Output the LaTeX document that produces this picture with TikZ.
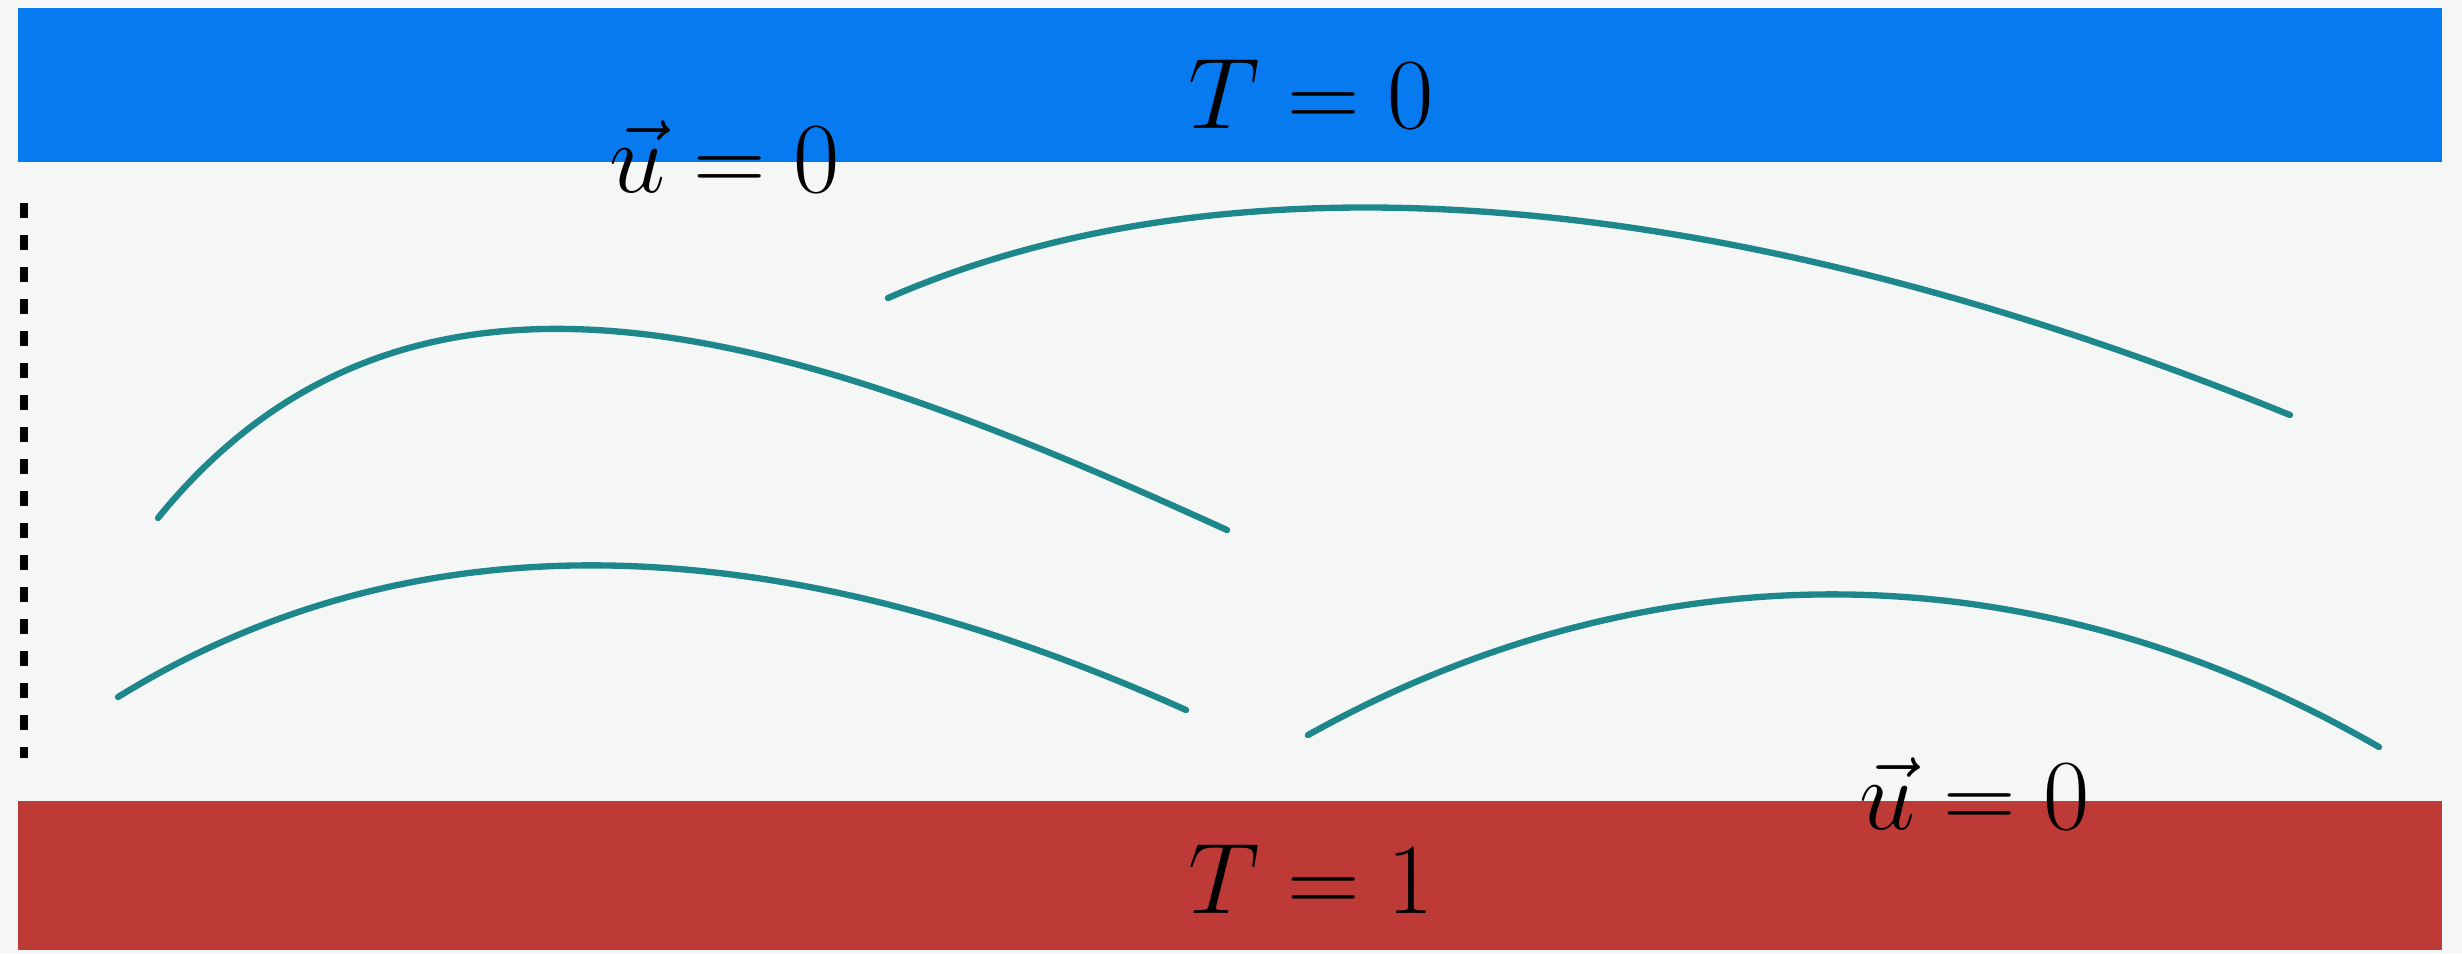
\documentclass[tikz,border=0pt]{standalone}
\usepackage{amsmath}
\usetikzlibrary{positioning}
\definecolor{coldblue}{RGB}{8,122,240}
\definecolor{hotred}{RGB}{190,58,54}
\definecolor{fluidbg}{RGB}{245,247,246}
\definecolor{plume}{RGB}{30,135,140}

\begin{document}
\begin{tikzpicture}[
    x=0.01cm, y=-0.01cm,
    wall/.style={rectangle, inner sep=0pt, outer sep=0pt, minimum width=24.22cm},
    lbl/.style={font=\Huge, inner sep=0pt, scale=1.15},
    streak/.style={plume, line width=1.8pt, line cap=round},
    sidewall/.style={black, line width=2pt, dash pattern=on 0.15cm off 0.17cm}
]

% ============ FLUID LAYER ============
\fill[fluidbg] (0,0) rectangle (2462,953);

% ============ PLATES ============
\node[wall, fill=coldblue, minimum height=1.54cm] (cold) at (1230,85) {};
\node[wall, fill=hotred, minimum height=1.49cm] (hot) at (1230,875.5) {};

\node[lbl] (coldT) at (1311,94) {$T=0$};
\node[lbl] (hotT) at (1311,879) {$T=1$};

% no-slip labels
\node[lbl] (coldU) at (725,157) {$\vec{u}=0$};
\node[lbl] (hotU) at (1975,794) {$\vec{u}=0$};

% ============ SIDE BOUNDARY ============
\coordinate (sidetop) at (24,203);
\coordinate (sidebot) at (24,758);
\draw[sidewall] (sidetop) -- (sidebot);

% ============ PLUMES ============
\draw[streak] (888,298) .. controls (1250,140) and (1750,195) .. (2290,415);
\draw[streak] (158,518) .. controls (420,195) and (820,345) .. (1227,530);
\draw[streak] (118,697) .. controls (450,492) and (830,550) .. (1186,710);
\draw[streak] (1308,735) .. controls (1640,550) and (2022,541) .. (2379,747);

\end{tikzpicture}
\end{document}
